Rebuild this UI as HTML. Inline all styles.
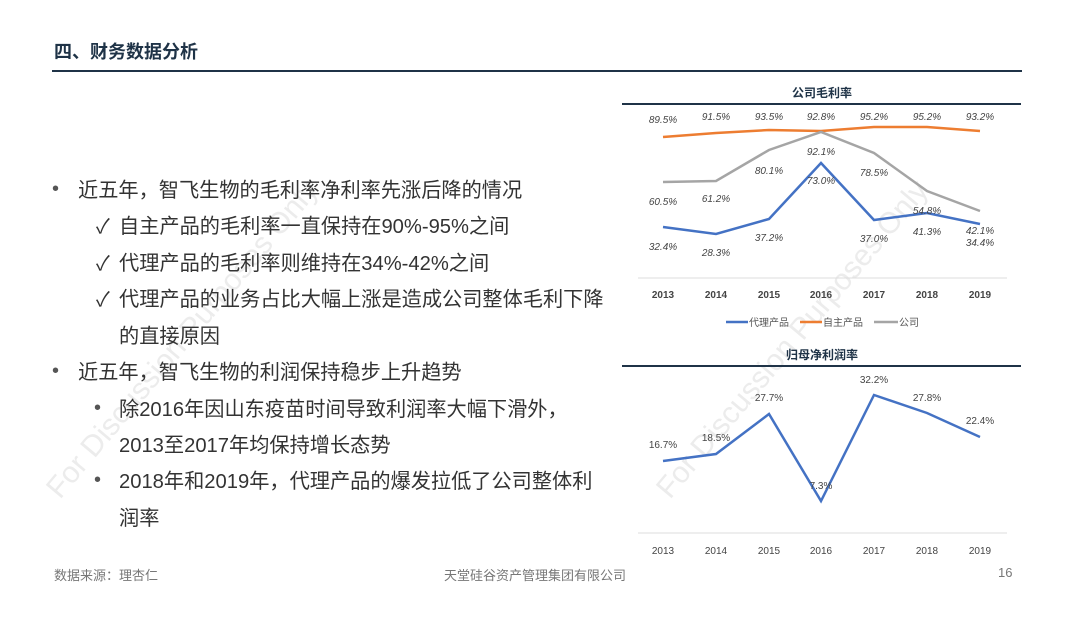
<!DOCTYPE html>
<html><head><meta charset="utf-8"><style>
body{margin:0;width:1080px;height:618px;background:#fff;position:relative;overflow:hidden;font-family:"Liberation Sans","Noto Sans CJK SC",sans-serif;color:#333}
.t{position:absolute;white-space:nowrap}
.b{font-size:20.2px;color:#333}
.d{font-size:20px;color:#555;margin-top:3px}
</style></head><body>
<svg width="1080" height="618" style="position:absolute;left:0;top:0" font-family="Liberation Sans, Noto Sans CJK SC, sans-serif">
<g fill="#ececec" font-size="30">
<text transform="translate(60,500) rotate(-50)">For Discussion Purposes Only</text>
<text transform="translate(670,500) rotate(-50)">For Discussion Purposes Only</text>
</g></svg>
<div class="t" style="left:54px;top:38px;font-size:18px;font-weight:bold;color:#1f3347">四、财务数据分析</div>
<div style="position:absolute;left:52px;top:70px;width:970px;height:2px;background:#1f3347"></div>
<div class="t d" style="left:52px;top:175px">•</div><div class="t b" style="left:78px;top:174px">近五年，智飞生物的毛利率净利率先涨后降的情况</div>
<div class="t b" style="left:96px;top:210px">✓</div><div class="t b" style="left:119px;top:210px">自主产品的毛利率一直保持在90%-95%之间</div>
<div class="t b" style="left:96px;top:247px">✓</div><div class="t b" style="left:119px;top:247px">代理产品的毛利率则维持在34%-42%之间</div>
<div class="t b" style="left:96px;top:283px">✓</div><div class="t b" style="left:119px;top:283px">代理产品的业务占比大幅上涨是造成公司整体毛利下降</div>
<div class="t b" style="left:119px;top:320px">的直接原因</div>
<div class="t d" style="left:52px;top:357px">•</div><div class="t b" style="left:78px;top:356px">近五年，智飞生物的利润保持稳步上升趋势</div>
<div class="t d" style="left:94px;top:394px">•</div><div class="t b" style="left:119px;top:393px">除2016年因山东疫苗时间导致利润率大幅下滑外，</div>
<div class="t b" style="left:119px;top:429px">2013至2017年均保持增长态势</div>
<div class="t d" style="left:94px;top:466px">•</div><div class="t b" style="left:119px;top:465px">2018年和2019年，代理产品的爆发拉低了公司整体利</div>
<div class="t b" style="left:119px;top:502px">润率</div>
<div class="t" style="left:54px;top:565px;font-size:13px;color:#777">数据来源：理杏仁</div>
<div class="t" style="left:444px;top:565px;font-size:13px;color:#777">天堂硅谷资产管理集团有限公司</div>
<div class="t" style="left:998px;top:565px;font-size:13px;color:#777">16</div>
<svg width="1080" height="618" style="position:absolute;left:0;top:0" font-family="Liberation Sans, Noto Sans CJK SC, sans-serif">
<text x="822" y="97" font-size="12" font-weight="bold" fill="#1f3347" text-anchor="middle">公司毛利率</text>
<line x1="622" y1="104" x2="1021" y2="104" stroke="#1f3347" stroke-width="2"/>
<line x1="638" y1="278" x2="1007" y2="278" stroke="#ddd"/>
<polyline fill="none" stroke="#ed7d31" stroke-width="2.5" points="663,137 716,133 769,130 821,131 874,127 927,127 980,131"/>
<polyline fill="none" stroke="#a5a5a5" stroke-width="2.5" points="663,182 716,181 769,150 821,132 874,153 927,191 980,211"/>
<polyline fill="none" stroke="#4472c4" stroke-width="2.5" points="663,227 716,234 769,219 821,163 874,220 927,213 980,224"/>
<g font-size="10" font-style="italic" fill="#444" text-anchor="middle">
<text x="663" y="123">89.5%</text><text x="716" y="120">91.5%</text><text x="769" y="120">93.5%</text><text x="821" y="120">92.8%</text><text x="874" y="120">95.2%</text><text x="927" y="120">95.2%</text><text x="980" y="120">93.2%</text>
<text x="663" y="205">60.5%</text><text x="716" y="202">61.2%</text><text x="769" y="174">80.1%</text><text x="821" y="155">92.1%</text><text x="874" y="176">78.5%</text><text x="927" y="214">54.8%</text><text x="980" y="234">42.1%</text>
<text x="663" y="250">32.4%</text><text x="716" y="256">28.3%</text><text x="769" y="241">37.2%</text><text x="821" y="184">73.0%</text><text x="874" y="242">37.0%</text><text x="927" y="235">41.3%</text><text x="980" y="246">34.4%</text>
</g>
<g font-size="10" font-weight="bold" fill="#444" text-anchor="middle">
<text x="663" y="298">2013</text><text x="716" y="298">2014</text><text x="769" y="298">2015</text><text x="821" y="298">2016</text><text x="874" y="298">2017</text><text x="927" y="298">2018</text><text x="980" y="298">2019</text>
</g>
<g font-size="10" fill="#555">
<line x1="726" y1="322" x2="748" y2="322" stroke="#4472c4" stroke-width="2.5"/><text x="749" y="326">代理产品</text>
<line x1="800" y1="322" x2="822" y2="322" stroke="#ed7d31" stroke-width="2.5"/><text x="823" y="326">自主产品</text>
<line x1="874" y1="322" x2="898" y2="322" stroke="#a5a5a5" stroke-width="2.5"/><text x="899" y="326">公司</text>
</g>
<text x="822" y="359" font-size="12" font-weight="bold" fill="#1f3347" text-anchor="middle">归母净利润率</text>
<line x1="622" y1="366" x2="1021" y2="366" stroke="#1f3347" stroke-width="2"/>
<line x1="638" y1="533" x2="1007" y2="533" stroke="#ddd"/>
<polyline fill="none" stroke="#4472c4" stroke-width="2.5" points="663,461 716,454 769,414 821,501 874,395 927,413 980,437"/>
<g font-size="10" fill="#444" text-anchor="middle">
<text x="663" y="448">16.7%</text><text x="716" y="441">18.5%</text><text x="769" y="401">27.7%</text><text x="821" y="489">7.3%</text><text x="874" y="383">32.2%</text><text x="927" y="401">27.8%</text><text x="980" y="424">22.4%</text>
<text x="663" y="554">2013</text><text x="716" y="554">2014</text><text x="769" y="554">2015</text><text x="821" y="554">2016</text><text x="874" y="554">2017</text><text x="927" y="554">2018</text><text x="980" y="554">2019</text>
</g>
</svg>
</body></html>
